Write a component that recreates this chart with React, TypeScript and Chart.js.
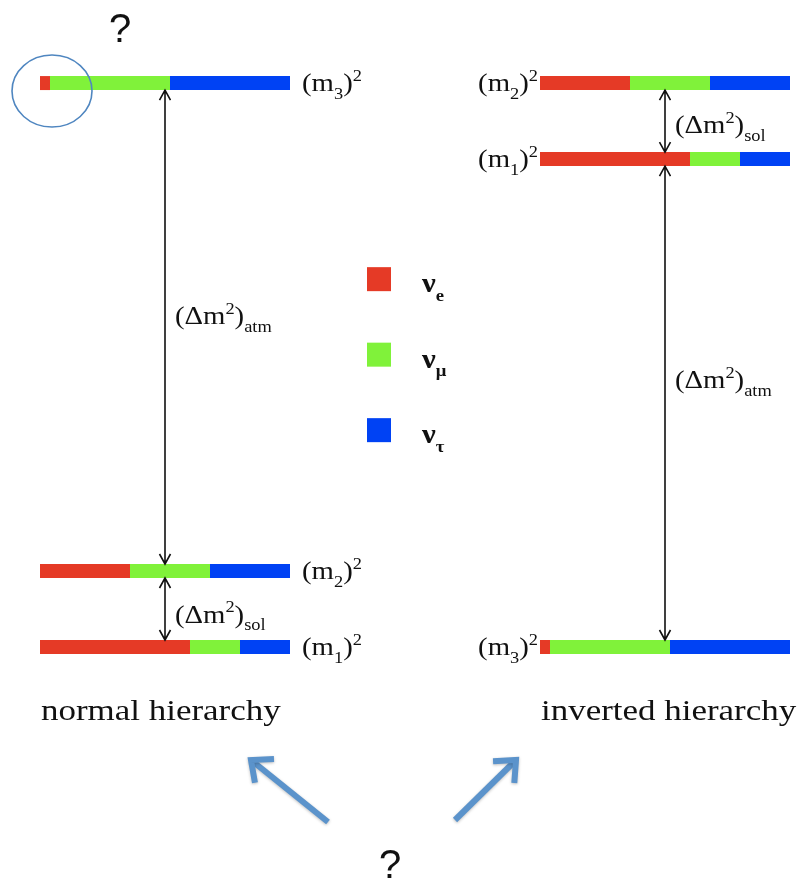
import React, { useEffect, useRef } from "react";
import { Chart, registerables } from "chart.js";

Chart.register(...registerables);

// Flavour content of each mass eigenstate (fractions of νe, νμ, ντ)
const STATES = ["1", "2", "3"];
const FRACTION_E = [0.6, 0.36, 0.04];
const FRACTION_MU = [0.2, 0.32, 0.48];
const FRACTION_TAU = [0.2, 0.32, 0.48];

// Mass-squared levels (units of the solar splitting) for each ordering
const NORMAL_MASS_SQ = [0, 1, 7.42];
const INVERTED_MASS_SQ = [6.42, 7.42, 0];

const FLAVOR_SUBS = ["e", "μ", "τ"];
const FLAVOR_COLORS = ["#e53a26", "#80f23a", "#0042f4"];

const HIERARCHY_TITLES = ["normal hierarchy", "inverted hierarchy"];

// Layout: each panel spans one unit of x; panels start at these offsets
const PANEL_OFFSETS = [0, 2];
const X_MIN = -0.16;
const X_MAX = 3.048;
const Y_MIN = -3.092;
const Y_MAX = 8.513;
const BAR_THICKNESS = 14;
const ARROW_X = 0.5;

const SERIF = '"Liberation Serif", "DejaVu Serif", serif';
const SANS = '"Liberation Sans", Arial, sans-serif';
const TEXT_STRETCH = 1.15;
const LABEL_SIZE = 25;

type Seg = { t: string; k?: "sub" | "sup" };

function drawRich(
  ctx: CanvasRenderingContext2D,
  x: number,
  y: number,
  segs: Seg[],
  size: number,
  align: "left" | "right",
  opts: { bold?: boolean; stretch?: number; small?: number } = {}
) {
  const stretch = opts.stretch ?? TEXT_STRETCH;
  const small = opts.small ?? 0.62;
  const weight = opts.bold ? "bold " : "";
  const fonts = segs.map((s) => `${weight}${s.k ? Math.round(size * small) : size}px ${SERIF}`);
  let total = 0;
  const widths = segs.map((s, i) => {
    ctx.font = fonts[i];
    const w = ctx.measureText(s.t).width;
    total += w;
    return w;
  });
  const start = align === "right" ? x - total * stretch : x;
  ctx.save();
  ctx.translate(start, y);
  ctx.scale(stretch, 1);
  ctx.textBaseline = "alphabetic";
  ctx.textAlign = "left";
  let cx = 0;
  segs.forEach((s, i) => {
    ctx.font = fonts[i];
    const dy = s.k === "sub" ? size * 0.3 : s.k === "sup" ? -size * 0.42 : 0;
    ctx.fillText(s.t, cx, dy);
    cx += widths[i];
  });
  ctx.restore();
}

function doubleArrow(ctx: CanvasRenderingContext2D, x: number, y1: number, y2: number) {
  const head = 10;
  const half = 5.5;
  ctx.save();
  ctx.strokeStyle = "#111";
  ctx.lineWidth = 1.6;
  ctx.beginPath();
  ctx.moveTo(x, y1);
  ctx.lineTo(x, y2);
  ctx.moveTo(x - half, y1 + head);
  ctx.lineTo(x, y1);
  ctx.lineTo(x + half, y1 + head);
  ctx.moveTo(x - half, y2 - head);
  ctx.lineTo(x, y2);
  ctx.lineTo(x + half, y2 - head);
  ctx.stroke();
  ctx.restore();
}

function blueArrow(ctx: CanvasRenderingContext2D, x0: number, y0: number, x1: number, y1: number) {
  const ang = Math.atan2(y1 - y0, x1 - x0);
  const len = 23;
  const spread = 0.72;
  ctx.save();
  ctx.strokeStyle = "#5b93cb";
  ctx.lineWidth = 6;
  ctx.lineCap = "butt";
  ctx.lineJoin = "miter";
  ctx.shadowColor = "rgba(0,0,0,0.25)";
  ctx.shadowBlur = 3;
  ctx.shadowOffsetY = 1;
  ctx.beginPath();
  ctx.moveTo(x0, y0);
  ctx.lineTo(x1, y1);
  ctx.stroke();
  ctx.beginPath();
  ctx.moveTo(x1 - len * Math.cos(ang - spread), y1 - len * Math.sin(ang - spread));
  ctx.lineTo(x1, y1);
  ctx.lineTo(x1 - len * Math.cos(ang + spread), y1 - len * Math.sin(ang + spread));
  ctx.stroke();
  ctx.restore();
}

function buildDatasets() {
  const sets: any[] = [];
  const fractions = [FRACTION_E, FRACTION_MU, FRACTION_TAU];
  [NORMAL_MASS_SQ, INVERTED_MASS_SQ].forEach((masses, p) => {
    const off = PANEL_OFFSETS[p];
    masses.forEach((m, s) => {
      let start = 0;
      fractions.forEach((fr, f) => {
        const end = start + fr[s];
        sets.push({
          label: `ν${FLAVOR_SUBS[f]} m${STATES[s]}`,
          data: [
            { x: off + start, y: m },
            { x: off + end, y: m },
          ],
          showLine: true,
          borderColor: FLAVOR_COLORS[f],
          backgroundColor: FLAVOR_COLORS[f],
          borderWidth: BAR_THICKNESS,
          borderCapStyle: "butt",
          pointRadius: 0,
          pointHoverRadius: 0,
        });
        start = end;
      });
    });
  });
  return sets;
}

const annotations = {
  id: "hierarchyAnnotations",
  afterDatasetsDraw(chart: any) {
    const ctx: CanvasRenderingContext2D = chart.ctx;
    const xs = chart.scales.x;
    const ys = chart.scales.y;
    const half = BAR_THICKNESS / 2;
    const px = (v: number) => xs.getPixelForValue(v);
    const py = (v: number) => ys.getPixelForValue(v);
    ctx.fillStyle = "#111";

    const stateLabel = (s: number): Seg[] => [
      { t: "(m" },
      { t: STATES[s], k: "sub" },
      { t: ")" },
      { t: "2", k: "sup" },
    ];
    const deltaLabel = (name: string): Seg[] => [
      { t: "(Δm" },
      { t: "2", k: "sup" },
      { t: ")" },
      { t: name, k: "sub" },
    ];

    // state labels: right of the bars in the normal panel, left of them in the inverted panel
    NORMAL_MASS_SQ.forEach((m, s) => {
      drawRich(ctx, px(PANEL_OFFSETS[0] + 1) + 12, py(m) + 8, stateLabel(s), LABEL_SIZE, "left");
    });
    INVERTED_MASS_SQ.forEach((m, s) => {
      drawRich(ctx, px(PANEL_OFFSETS[1]) - 2, py(m) + 8, stateLabel(s), LABEL_SIZE, "right");
    });

    // splittings
    const splits = [
      { p: 0, lo: NORMAL_MASS_SQ[0], hi: NORMAL_MASS_SQ[1], name: "sol", f: 0.72 },
      { p: 0, lo: NORMAL_MASS_SQ[1], hi: NORMAL_MASS_SQ[2], name: "atm", f: 0.494 },
      { p: 1, lo: INVERTED_MASS_SQ[0], hi: INVERTED_MASS_SQ[1], name: "sol", f: 0.7 },
      { p: 1, lo: INVERTED_MASS_SQ[2], hi: INVERTED_MASS_SQ[0], name: "atm", f: 0.469 },
    ];
    splits.forEach((sp) => {
      const x = px(PANEL_OFFSETS[sp.p] + ARROW_X);
      const top = py(sp.hi) + half;
      const bottom = py(sp.lo) - half;
      doubleArrow(ctx, x, top, bottom);
      ctx.fillStyle = "#111";
      drawRich(ctx, x + 10, top + (bottom - top) * sp.f, deltaLabel(sp.name), LABEL_SIZE, "left");
    });

    // flavour legend
    const legendX = px(1.356);
    const legendY0 = py(4.84);
    const legendGap = 75.5;
    FLAVOR_COLORS.forEach((c, i) => {
      const cy = legendY0 + i * legendGap;
      ctx.fillStyle = c;
      ctx.fillRect(legendX - 12, cy - 12, 24, 24);
      ctx.fillStyle = "#111";
      drawRich(ctx, legendX + 43, cy + 13, [{ t: "ν" }, { t: FLAVOR_SUBS[i], k: "sub" }], 28, "left", {
        bold: true,
        stretch: 1.1,
        small: 0.6,
      });
    });

    // panel titles
    ctx.fillStyle = "#111";
    HIERARCHY_TITLES.forEach((t, p) => {
      drawRich(ctx, px(PANEL_OFFSETS[p]) + 1, py(NORMAL_MASS_SQ[0]) + 73, [{ t }], 30, "left", { stretch: 1.165 });
    });

    // question marks, highlight ellipse and pointer arrows
    const left = chart.chartArea.left;
    const top = chart.chartArea.top;
    ctx.save();
    ctx.fillStyle = "#111";
    ctx.font = `40px ${SANS}`;
    ctx.textAlign = "center";
    ctx.textBaseline = "alphabetic";
    ctx.fillText("?", left + 120, top + 42);
    ctx.fillText("?", left + 390, top + 878);
    ctx.restore();

    ctx.save();
    ctx.strokeStyle = "#4f86c0";
    ctx.lineWidth = 1.6;
    ctx.beginPath();
    ctx.ellipse(px(PANEL_OFFSETS[0]) + 12, py(NORMAL_MASS_SQ[2]) + 8, 40, 36, 0, 0, Math.PI * 2);
    ctx.stroke();
    ctx.restore();

    blueArrow(ctx, left + 328, top + 822, left + 251, top + 760);
    blueArrow(ctx, left + 455, top + 820, left + 516, top + 760);
  },
};

export default function App() {
  const ref = useRef<HTMLCanvasElement | null>(null);

  useEffect(() => {
    document.body.style.margin = "0";
    const canvas = ref.current;
    if (!canvas) return;
    const chart = new Chart(canvas, {
      type: "scatter",
      data: { datasets: buildDatasets() },
      options: {
        animation: false,
        responsive: false,
        events: [],
        layout: { padding: 0 },
        plugins: { legend: { display: false }, tooltip: { enabled: false } },
        scales: {
          x: { type: "linear", min: X_MIN, max: X_MAX, display: false },
          y: { type: "linear", min: Y_MIN, max: Y_MAX, display: false },
        },
      },
      plugins: [annotations],
    });
    return () => chart.destroy();
  }, []);

  return (
    <div style={{ width: 802, height: 882, background: "#fff" }}>
      <canvas ref={ref} width={802} height={882} style={{ display: "block" }} />
    </div>
  );
}
